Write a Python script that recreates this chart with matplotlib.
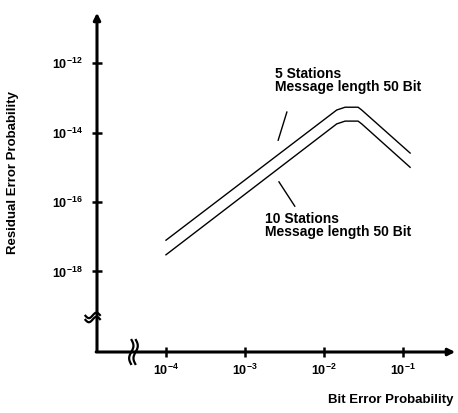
import numpy as np
import matplotlib
matplotlib.use("Agg")
import matplotlib.pyplot as plt

# values (log10 of probabilities)
ber_upper = [1e-4, 1.45e-2, 1.85e-2, 2.7e-2, 3.0e-2, 1.23e-1]
rep_upper = [-17.10, -13.35, -13.27, -13.27, -13.35, -14.59]
ber_lower = [1e-4, 1.45e-2, 1.85e-2, 2.7e-2, 3.0e-2, 1.23e-1]
rep_lower = [-17.52, -13.75, -13.67, -13.67, -13.75, -15.00]

xticks = [1e-4, 1e-3, 1e-2, 1e-1]
xtick_labels = [r"$\mathbf{10^{-4}}$", r"$\mathbf{10^{-3}}$", r"$\mathbf{10^{-2}}$", r"$\mathbf{10^{-1}}$"]
yticks = [1e-12, 1e-14, 1e-16, 1e-18]
ytick_labels = [r"$\mathbf{10^{-12}}$", r"$\mathbf{10^{-14}}$", r"$\mathbf{10^{-16}}$", r"$\mathbf{10^{-18}}$"]

plt.rcParams["font.family"] = ["Liberation Sans", "DejaVu Sans"]
plt.rcParams["mathtext.fontset"] = "custom"
plt.rcParams["mathtext.bf"] = "Liberation Sans:bold"
plt.rcParams["mathtext.rm"] = "Liberation Sans"

W, H = 458, 413
fig = plt.figure(figsize=(W / 100, H / 100), dpi=100)
ax = fig.add_axes([97 / W, (H - 352) / H, (458 - 97) / W, (352 - 10) / H])
ax.set_xscale("log"); ax.set_yscale("log")
ax.set_xlim(10 ** -4.873, 10 ** -0.304)
ax.set_ylim(10 ** -20.32, 10 ** -10.47)

ax.plot(ber_upper, 10.0 ** np.array(rep_upper), color="black", lw=1.0)
ax.plot(ber_lower, 10.0 ** np.array(rep_lower), color="black", lw=1.0)

for s in ax.spines.values():
    s.set_visible(False)
ax.set_xticks(xticks); ax.set_xticklabels(xtick_labels, fontsize=9)
ax.set_yticks(yticks); ax.set_yticklabels(ytick_labels, fontsize=9)
ax.minorticks_off()
ax.tick_params(axis="both", direction="inout", length=7, width=1.8, color="black")
ax.tick_params(axis="x", pad=4)
ax.tick_params(axis="y", pad=7)

# axis arrows
ax.annotate("", xy=(1.0, 0.0), xytext=(-0.01, 0.0), xycoords="axes fraction",
            arrowprops=dict(arrowstyle="-|>", lw=2.2, color="black", mutation_scale=10))
ax.annotate("", xy=(0.0, 1.0), xytext=(0.0, -0.005), xycoords="axes fraction",
            arrowprops=dict(arrowstyle="-|>", lw=2.2, color="black", mutation_scale=10))

# axis break marks
t = np.linspace(-1, 1, 20)
for d in (0.0, 0.012):
    ax.plot(0.095 + d + 0.006 * np.sin(t * 3), 0.0 + 0.035 * t, color="black", lw=1.6,
            transform=ax.transAxes, clip_on=False)
    ax.plot(-0.012 + 0.02 * t, 0.095 + d + 0.008 * np.sin(t * 3), color="black", lw=1.6,
            transform=ax.transAxes, clip_on=False)

# curve labels
ax.text(10 ** -2.62, 10 ** -12.10, "5 Stations\nMessage length 50 Bit", fontsize=10,
        fontweight="bold", va="top", ha="left", linespacing=0.95)
ax.plot([10 ** -2.47, 10 ** -2.58], [10 ** -13.41, 10 ** -14.22], color="black", lw=1.0)
ax.text(10 ** -2.75, 10 ** -16.28, "10 Stations\nMessage length 50 Bit", fontsize=10,
        fontweight="bold", va="top", ha="left", linespacing=0.95)
ax.plot([10 ** -2.57, 10 ** -2.37], [10 ** -15.42, 10 ** -16.12], color="black", lw=1.0)

fig.text(13 / W, 1 - 172 / H, "Residual Error Probability", rotation=90, fontsize=9.5,
         fontweight="bold", ha="center", va="center")
fig.text(391 / W, 1 - 400 / H, "Bit Error Probability", fontsize=9.5,
         fontweight="bold", ha="center", va="center")

fig.savefig("out.png", dpi=100)
